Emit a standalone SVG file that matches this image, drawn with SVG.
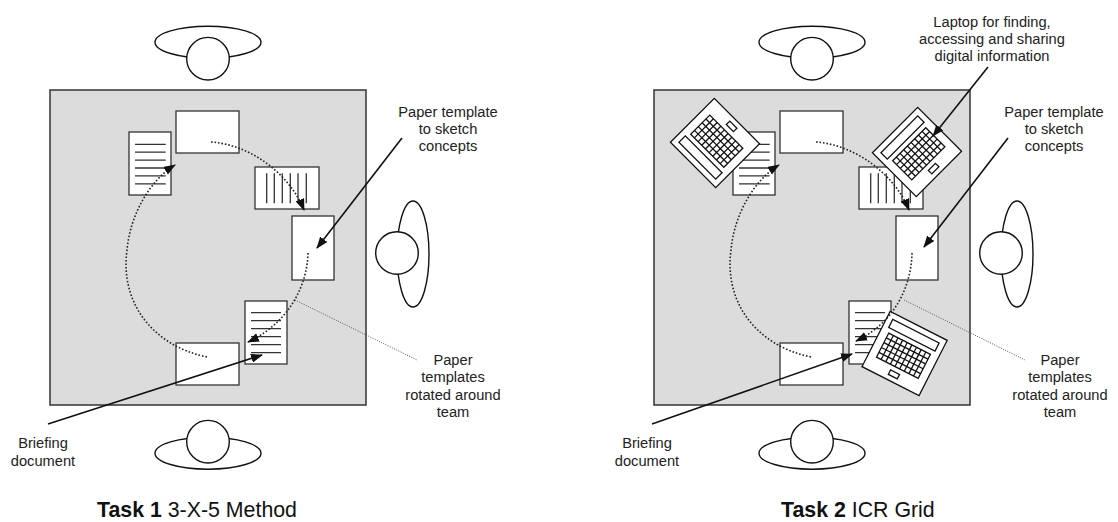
<svg xmlns="http://www.w3.org/2000/svg" xmlns:xlink="http://www.w3.org/1999/xlink" width="1118" height="522" viewBox="0 0 1118 522">
  <style>
    .table { fill: #dcdcdc; stroke: #333; stroke-width: 1.5; }
    .sheet { fill: #fff; stroke: #333; stroke-width: 1.3; }
    .rule { stroke: #333; stroke-width: 1.3; fill: none; }
    .person { fill: #fff; stroke: #111; stroke-width: 1.4; }
    .flow { fill: none; stroke: #222; stroke-width: 1.6; stroke-dasharray: 1.6 1.9; }
    .pointer { fill: none; stroke: #111; stroke-width: 1.6; }
    .leader { fill: none; stroke: #555; stroke-width: 1; stroke-dasharray: 1 1.4; }
    .label { font-family: "Liberation Sans", Arial, sans-serif; font-size: 14.67px; fill: #222; text-anchor: middle; }
    .caption { font-family: "Liberation Sans", Arial, sans-serif; font-size: 21.33px; fill: #111; }
    .kb { fill: #fff; stroke: #111; stroke-width: 1.3; }
  </style>
  <defs>
    <marker id="ah" viewBox="0 0 12 9" refX="11" refY="4.5" markerWidth="12" markerHeight="9" markerUnits="userSpaceOnUse" orient="auto">
      <path d="M0,0 L12,4.5 L0,9 z" fill="#111"/>
    </marker>
    <!-- laptop seen from above: hinge strip, keyboard grid, touchpad -->
    <g id="laptop">
      <rect class="kb" x="-32" y="-31" width="64" height="62"/>
      <rect class="kb" x="-26" y="-25" width="52" height="9"/>
      <path class="kb" d="M-23.4,-11 h46.8 v27 h-46.8 z M-18.2,-11 v27 M-13,-11 v27 M-7.8,-11 v27 M-2.6,-11 v27 M2.6,-11 v27 M7.8,-11 v27 M13,-11 v27 M18.2,-11 v27 M-23.4,-5.6 h46.8 M-23.4,-0.2 h46.8 M-23.4,5.2 h46.8 M-23.4,10.6 h46.8"/>
      <rect class="kb" x="-5" y="21" width="10" height="5"/>
    </g>
    <!-- seated person: head and shoulders -->
    <g id="person-top">
      <ellipse class="person" cx="0" cy="-16.5" rx="53" ry="16"/>
      <circle class="person" cx="0" cy="0" r="21.3"/>
    </g>
    <g id="person-bottom">
      <ellipse class="person" cx="0" cy="11.5" rx="53" ry="16"/>
      <circle class="person" cx="0" cy="0" r="21.3"/>
    </g>
    <g id="person-right">
      <ellipse class="person" cx="16" cy="1" rx="16" ry="53"/>
      <circle class="person" cx="0" cy="0" r="21.3"/>
    </g>
  </defs>

  <!-- ===== Task 1: 3-X-5 Method ===== -->
  <g id="task1">
    <g id="t1-table"><rect class="table" x="50" y="90" width="316" height="315"/></g>
    <g id="t1-people">
      <use xlink:href="#person-top" href="#person-top" x="208" y="58.7"/>
      <use xlink:href="#person-bottom" href="#person-bottom" x="208" y="441.7"/>
      <use xlink:href="#person-right" href="#person-right" x="397" y="253"/>
    </g>
    <g id="t1-sheet-a">
      <rect class="sheet" x="129" y="132" width="42" height="63"/>
      <path class="rule" d="M135,144.3 H165.7 M135,152.2 H165.7 M135,160.1 H165.7 M135,168 H165.7 M135,175.9 H165.7 M135,183.8 H165.7"/>
    </g>
    <g id="t1-sheet-b"><rect class="sheet" x="176" y="111" width="63" height="42"/></g>
    <g id="t1-sheet-c">
      <rect class="sheet" x="255" y="167" width="64" height="42"/>
      <path class="rule" d="M266.7,173.3 V203.3 M274.3,173.3 V203.3 M282.3,173.3 V203.3 M290.3,173.3 V203.3 M298,173.3 V203.3 M306.3,173.3 V203.3"/>
    </g>
    <g id="t1-sheet-d"><rect class="sheet" x="292" y="216" width="42" height="64"/></g>
    <g id="t1-sheet-e">
      <rect class="sheet" x="245" y="301" width="42" height="63"/>
      <path class="rule" d="M251,312.7 H281 M251,320.7 H281 M251,328.7 H281 M251,336.7 H281 M251,344.7 H281 M251,352.7 H281"/>
    </g>
    <g id="t1-sheet-f"><rect class="sheet" x="176" y="343" width="63" height="42"/></g>

    <g id="t1-connectors">
      <path class="flow" marker-end="url(#ah)" d="M211,142 C252,145 290,175 304,210"/>
      <path class="flow" marker-end="url(#ah)" d="M308,253 C307,290 285,325 248,342"/>
      <path class="flow" marker-end="url(#ah)" d="M207,357 C150,345 120,300 127,250 C130,215 150,180 175,165"/>
      <path class="pointer" marker-end="url(#ah)" d="M402,138 L317,248"/>
      <path class="pointer" marker-end="url(#ah)" d="M48,424 L262,355"/>
      <path class="leader" d="M295,300 L417,360"/>
    </g>

    <g id="t1-labels">
      <text class="label" x="448" y="116.5">Paper template</text>
      <text class="label" x="448" y="133.5">to sketch</text>
      <text class="label" x="448" y="150.5">concepts</text>
      <text class="label" x="453" y="364.5">Paper</text>
      <text class="label" x="453" y="382">templates</text>
      <text class="label" x="453" y="399.5">rotated around</text>
      <text class="label" x="453" y="417">team</text>
      <text class="label" x="43" y="448">Briefing</text>
      <text class="label" x="43" y="465.5">document</text>
    </g>
    <text class="caption" x="97" y="517"><tspan font-weight="bold">Task 1</tspan> 3-X-5 Method</text>
  </g>

  <!-- ===== Task 2: ICR Grid ===== -->
  <g id="task2">
    <g id="t2-table"><rect class="table" x="654" y="90" width="316" height="315"/></g>
    <g id="t2-people">
      <use xlink:href="#person-top" href="#person-top" x="812" y="58.7"/>
      <use xlink:href="#person-bottom" href="#person-bottom" x="812" y="441.7"/>
      <use xlink:href="#person-right" href="#person-right" x="1001" y="253"/>
    </g>
    <g id="t2-sheet-a">
      <rect class="sheet" x="733" y="132" width="42" height="63"/>
      <path class="rule" d="M739,144.3 H769.7 M739,152.2 H769.7 M739,160.1 H769.7 M739,168 H769.7 M739,175.9 H769.7 M739,183.8 H769.7"/>
    </g>
    <g id="t2-sheet-b"><rect class="sheet" x="780" y="111" width="63" height="42"/></g>
    <g id="t2-sheet-c">
      <rect class="sheet" x="859" y="167" width="64" height="42"/>
      <path class="rule" d="M870.7,173.3 V203.3 M878.3,173.3 V203.3 M886.3,173.3 V203.3 M894.3,173.3 V203.3 M902,173.3 V203.3 M910.3,173.3 V203.3"/>
    </g>
    <g id="t2-sheet-d"><rect class="sheet" x="896" y="216" width="42" height="64"/></g>
    <g id="t2-sheet-e">
      <rect class="sheet" x="849" y="301" width="42" height="63"/>
      <path class="rule" d="M855,312.7 H885 M855,320.7 H885 M855,328.7 H885 M855,336.7 H885 M855,344.7 H885 M855,352.7 H885"/>
    </g>
    <g id="t2-sheet-f"><rect class="sheet" x="780" y="343" width="63" height="42"/></g>

    <g id="t2-laptops">
      <use id="t2-laptop-1" xlink:href="#laptop" href="#laptop" transform="translate(715,143) rotate(-135)"/>
      <use id="t2-laptop-2" xlink:href="#laptop" href="#laptop" transform="translate(917,152) rotate(-45)"/>
      <use id="t2-laptop-3" xlink:href="#laptop" href="#laptop" transform="translate(904.6,353.5) rotate(27)"/>
    </g>

    <g id="t2-connectors">
      <path class="flow" marker-end="url(#ah)" d="M816,142 C856,145 895,175 909,210"/>
      <path class="flow" marker-end="url(#ah)" d="M912,253 C911,290 892,324 856,341"/>
      <path class="flow" marker-end="url(#ah)" d="M811,357 C754,345 724,300 731,250 C734,215 754,180 779,165"/>
      <path class="pointer" marker-end="url(#ah)" d="M1008,138 L924,247"/>
      <path class="pointer" marker-end="url(#ah)" d="M988,67 L933,136"/>
      <path class="pointer" marker-end="url(#ah)" d="M652,424 L852,354"/>
      <path class="leader" d="M904,300 L1025,360"/>
    </g>

    <g id="t2-labels">
      <text class="label" x="992" y="26.5">Laptop for finding,</text>
      <text class="label" x="992" y="43.5">accessing and sharing</text>
      <text class="label" x="992" y="60.5">digital information</text>
      <text class="label" x="1054" y="116.5">Paper template</text>
      <text class="label" x="1054" y="133.5">to sketch</text>
      <text class="label" x="1054" y="150.5">concepts</text>
      <text class="label" x="1060" y="364.5">Paper</text>
      <text class="label" x="1060" y="382">templates</text>
      <text class="label" x="1060" y="399.5">rotated around</text>
      <text class="label" x="1060" y="417">team</text>
      <text class="label" x="647" y="448">Briefing</text>
      <text class="label" x="647" y="465.5">document</text>
    </g>
    <text class="caption" x="781" y="517"><tspan font-weight="bold">Task 2</tspan> ICR Grid</text>
  </g>
</svg>
